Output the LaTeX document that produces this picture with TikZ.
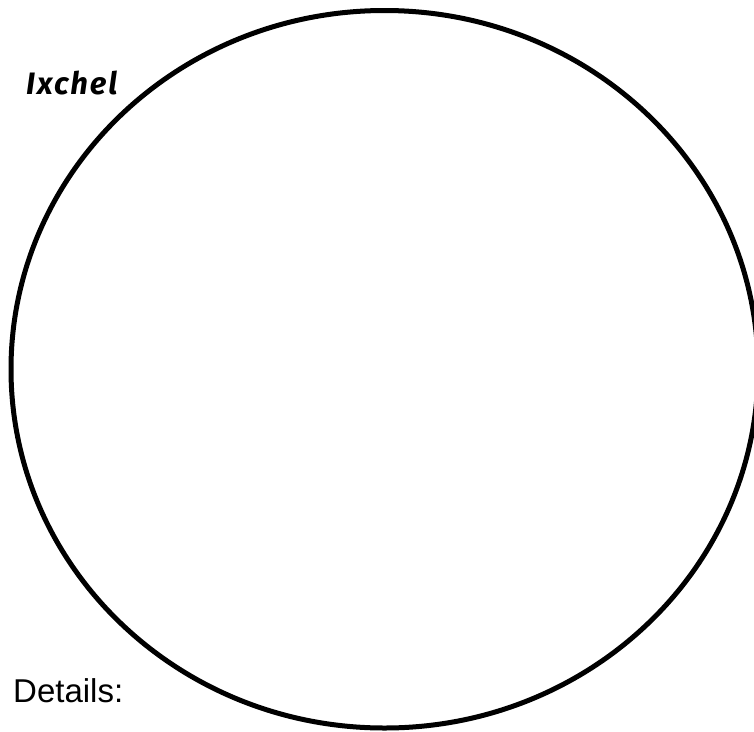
\documentclass[tikz,border=0pt]{standalone}
\usepackage{fontspec}
\setmainfont{Liberation Sans}
\newfontfamily\handfont{Fira Sans}[LetterSpace=6]
\begin{document}
\begin{tikzpicture}[x=1pt,y=-1pt,
  ring/.style={draw=black,line width=5pt},
  label/.style={inner sep=0pt,anchor=base west}]
\useasboundingbox (0,0) rectangle (754,731);
\draw[ring] (384.5,369.25) ellipse [x radius=373.5, y radius=358.75];
\node[label,font=\handfont\bfseries\itshape\fontsize{31}{36}\selectfont] (name) at (26,94) {Ixchel};
\node[label,font=\fontsize{33}{39}\selectfont] (details) at (13,702) {Details:};
\end{tikzpicture}
\end{document}
